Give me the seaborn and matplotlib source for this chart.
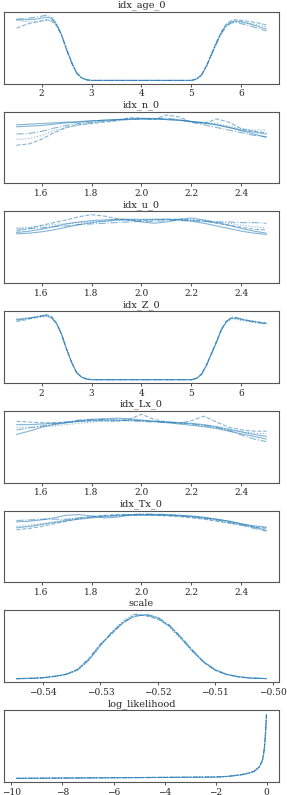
import numpy as np
import pandas as pd
import matplotlib
matplotlib.use("Agg")
import matplotlib.pyplot as plt
import seaborn as sns

# ---------------- data ----------------
titles = ["idx_age_0", "idx_n_0", "idx_u_0", "idx_Z_0", "idx_Lx_0", "idx_Tx_0", "scale", "log_likelihood"]

grid_wide = [1.5, 1.7, 1.9, 2.1, 2.2, 2.3, 2.4, 2.5, 2.6, 2.7, 2.8, 2.9, 3.0, 3.5, 4.0, 4.5,
             5.0, 5.1, 5.2, 5.3, 5.4, 5.5, 5.6, 5.7, 5.8, 5.9, 6.0, 6.2, 6.4, 6.5]
grid_unit = [1.5, 1.55, 1.6, 1.65, 1.7, 1.75, 1.8, 1.85, 1.9, 1.95, 2.0, 2.05, 2.1, 2.15, 2.2,
             2.25, 2.3, 2.35, 2.4, 2.45, 2.5]
grid_scale = [-0.5446, -0.542, -0.540, -0.538, -0.536, -0.534, -0.532, -0.530, -0.528, -0.526,
              -0.524, -0.522, -0.520, -0.518, -0.516, -0.514, -0.512, -0.510, -0.508, -0.506,
              -0.504, -0.5011]
grid_ll = [-9.8, -9.0, -8.0, -7.0, -6.0, -5.0, -4.0, -3.0, -2.0, -1.5, -1.0, -0.7, -0.5, -0.3,
           -0.2, -0.15, -0.1, -0.07, -0.05, -0.035, -0.02, -0.01]

age_chains = [
    [0.93, 0.93, 0.94, 0.97, 0.95, 0.86, 0.70, 0.48, 0.28, 0.12, 0.04, 0.01, 0.0, 0.0, 0.0, 0.0,
     0.0, 0.02, 0.08, 0.22, 0.40, 0.58, 0.74, 0.85, 0.90, 0.91, 0.90, 0.86, 0.81, 0.79],
    [0.80, 0.86, 0.90, 0.93, 0.91, 0.84, 0.69, 0.48, 0.28, 0.12, 0.04, 0.01, 0.0, 0.0, 0.0, 0.0,
     0.0, 0.02, 0.09, 0.23, 0.41, 0.59, 0.75, 0.87, 0.92, 0.93, 0.92, 0.90, 0.87, 0.85],
    [0.92, 0.90, 0.89, 0.92, 0.92, 0.85, 0.70, 0.49, 0.29, 0.12, 0.04, 0.01, 0.0, 0.0, 0.0, 0.0,
     0.0, 0.02, 0.08, 0.22, 0.40, 0.57, 0.73, 0.84, 0.89, 0.90, 0.89, 0.87, 0.84, 0.82],
    [0.94, 0.95, 0.97, 1.00, 0.97, 0.87, 0.70, 0.47, 0.27, 0.11, 0.04, 0.01, 0.0, 0.0, 0.0, 0.0,
     0.0, 0.02, 0.08, 0.21, 0.39, 0.56, 0.72, 0.83, 0.88, 0.89, 0.87, 0.83, 0.78, 0.76],
]
n_chains = [
    [0.84, 0.85, 0.86, 0.87, 0.88, 0.89, 0.90, 0.91, 0.92, 0.93, 0.93, 0.93, 0.92, 0.91, 0.89, 0.87, 0.84, 0.80, 0.75, 0.70, 0.65],
    [0.53, 0.55, 0.62, 0.72, 0.80, 0.84, 0.86, 0.88, 0.90, 0.95, 0.94, 0.92, 0.99, 0.96, 0.88, 0.86, 0.93, 0.88, 0.78, 0.74, 0.72],
    [0.62, 0.63, 0.68, 0.75, 0.80, 0.84, 0.87, 0.89, 0.91, 0.93, 0.94, 0.94, 0.93, 0.91, 0.89, 0.88, 0.86, 0.82, 0.78, 0.76, 0.76],
    [0.70, 0.71, 0.74, 0.79, 0.83, 0.86, 0.88, 0.90, 0.91, 0.92, 0.93, 0.93, 0.94, 0.92, 0.88, 0.84, 0.80, 0.76, 0.72, 0.68, 0.66],
    [0.81, 0.82, 0.83, 0.85, 0.87, 0.88, 0.90, 0.91, 0.92, 0.92, 0.93, 0.93, 0.92, 0.91, 0.89, 0.87, 0.84, 0.80, 0.76, 0.73, 0.70],
]
u_chains = [
    [0.70, 0.71, 0.73, 0.76, 0.80, 0.84, 0.87, 0.89, 0.91, 0.91, 0.88, 0.86, 0.88, 0.92, 0.94, 0.91, 0.87, 0.83, 0.78, 0.74, 0.71],
    [0.74, 0.78, 0.83, 0.87, 0.91, 0.96, 0.99, 0.97, 0.93, 0.91, 0.90, 0.91, 0.92, 0.92, 0.91, 0.89, 0.86, 0.83, 0.80, 0.77, 0.76],
    [0.79, 0.80, 0.82, 0.84, 0.86, 0.87, 0.88, 0.89, 0.90, 0.91, 0.91, 0.92, 0.92, 0.92, 0.91, 0.90, 0.88, 0.86, 0.83, 0.81, 0.79],
    [0.77, 0.78, 0.79, 0.81, 0.82, 0.84, 0.85, 0.86, 0.87, 0.88, 0.89, 0.89, 0.90, 0.90, 0.90, 0.89, 0.88, 0.88, 0.87, 0.87, 0.86],
    [0.72, 0.74, 0.77, 0.81, 0.85, 0.88, 0.90, 0.91, 0.92, 0.92, 0.92, 0.92, 0.92, 0.91, 0.89, 0.86, 0.82, 0.78, 0.74, 0.71, 0.69],
]
z_chains = [
    [0.92, 0.94, 0.96, 0.98, 0.95, 0.86, 0.70, 0.47, 0.27, 0.11, 0.04, 0.01, 0.0, 0.0, 0.0, 0.0,
     0.0, 0.02, 0.08, 0.22, 0.40, 0.57, 0.77, 0.89, 0.94, 0.94, 0.92, 0.90, 0.87, 0.86],
    [0.89, 0.92, 0.96, 1.00, 0.97, 0.87, 0.70, 0.47, 0.27, 0.11, 0.04, 0.01, 0.0, 0.0, 0.0, 0.0,
     0.0, 0.02, 0.09, 0.23, 0.41, 0.59, 0.78, 0.90, 0.95, 0.95, 0.93, 0.90, 0.88, 0.87],
    [0.94, 0.94, 0.95, 0.97, 0.95, 0.86, 0.69, 0.47, 0.27, 0.11, 0.04, 0.01, 0.0, 0.0, 0.0, 0.0,
     0.0, 0.02, 0.08, 0.21, 0.39, 0.57, 0.76, 0.88, 0.93, 0.92, 0.91, 0.88, 0.86, 0.85],
    [0.91, 0.93, 0.97, 0.99, 0.96, 0.86, 0.70, 0.47, 0.27, 0.11, 0.04, 0.01, 0.0, 0.0, 0.0, 0.0,
     0.0, 0.02, 0.08, 0.22, 0.40, 0.58, 0.77, 0.89, 0.96, 0.95, 0.93, 0.89, 0.87, 0.86],
]
lx_chains = [
    [0.69, 0.74, 0.80, 0.84, 0.87, 0.90, 0.92, 0.93, 0.94, 0.93, 0.91, 0.89, 0.87, 0.85, 0.83, 0.81, 0.78, 0.74, 0.70, 0.66, 0.62],
    [0.89, 0.88, 0.87, 0.87, 0.88, 0.89, 0.90, 0.90, 0.89, 0.92, 1.00, 0.92, 0.88, 0.86, 0.90, 0.97, 0.88, 0.80, 0.76, 0.74, 0.74],
    [0.80, 0.80, 0.81, 0.82, 0.84, 0.86, 0.88, 0.89, 0.90, 0.90, 0.90, 0.89, 0.88, 0.87, 0.85, 0.82, 0.79, 0.76, 0.73, 0.71, 0.70],
    [0.76, 0.79, 0.82, 0.85, 0.88, 0.91, 0.92, 0.92, 0.91, 0.90, 0.89, 0.88, 0.88, 0.87, 0.85, 0.83, 0.80, 0.75, 0.68, 0.62, 0.58],
    [0.84, 0.84, 0.85, 0.86, 0.87, 0.89, 0.90, 0.91, 0.91, 0.91, 0.90, 0.89, 0.88, 0.87, 0.86, 0.84, 0.81, 0.77, 0.73, 0.69, 0.66],
]
tx_chains = [
    [0.87, 0.88, 0.90, 0.93, 0.97, 0.98, 0.96, 0.93, 0.94, 0.97, 0.98, 0.98, 0.98, 0.97, 0.96, 0.94, 0.91, 0.88, 0.84, 0.79, 0.74],
    [0.75, 0.77, 0.80, 0.84, 0.88, 0.92, 0.95, 0.97, 0.98, 0.98, 0.98, 0.97, 0.96, 0.95, 0.93, 0.91, 0.88, 0.85, 0.82, 0.79, 0.77],
    [0.80, 0.82, 0.84, 0.87, 0.90, 0.93, 0.95, 0.96, 0.97, 0.98, 0.98, 0.98, 0.97, 0.96, 0.94, 0.92, 0.89, 0.86, 0.83, 0.80, 0.78],
    [0.89, 0.90, 0.91, 0.91, 0.91, 0.93, 0.94, 0.96, 0.97, 0.98, 0.99, 0.99, 0.98, 0.97, 0.95, 0.93, 0.90, 0.86, 0.82, 0.77, 0.73],
    [0.78, 0.80, 0.83, 0.86, 0.89, 0.91, 0.93, 0.95, 0.96, 0.97, 0.97, 0.97, 0.97, 0.96, 0.95, 0.93, 0.91, 0.88, 0.84, 0.81, 0.79],
]
scale_chains = [
    [0.3, 0.6, 1.1, 2.3, 4.0, 8.0, 17.0, 30.0, 41.0, 50.0, 56.0, 57.0, 54.0, 47.0, 36.5, 25.0, 15.0, 8.0, 4.0, 2.0, 0.9, 0.3],
    [0.2, 0.5, 1.0, 2.2, 4.2, 8.5, 18.5, 31.0, 40.0, 50.5, 57.5, 56.0, 53.0, 47.5, 37.5, 25.5, 14.5, 7.5, 3.8, 1.8, 0.8, 0.3],
    [0.3, 0.6, 1.2, 2.4, 3.8, 7.5, 16.0, 29.0, 42.0, 52.0, 58.0, 56.5, 54.5, 46.0, 35.5, 24.0, 15.5, 8.5, 4.2, 2.1, 0.9, 0.4],
    [0.2, 0.5, 1.1, 2.3, 4.1, 8.2, 17.5, 30.5, 41.5, 51.0, 55.5, 57.5, 55.0, 48.0, 37.0, 26.0, 15.0, 7.8, 3.9, 1.9, 0.8, 0.2],
]
ll_chains = [
    [0.02, 0.03, 0.04, 0.05, 0.06, 0.07, 0.08, 0.09, 0.10, 0.14, 0.24, 0.34, 0.44, 0.70, 1.00, 1.25, 1.76, 2.2, 2.7, 3.1, 3.6, 3.9],
    [0.02, 0.03, 0.04, 0.05, 0.06, 0.07, 0.08, 0.09, 0.11, 0.15, 0.25, 0.35, 0.46, 0.72, 1.02, 1.28, 1.80, 2.3, 2.8, 3.2, 3.7, 4.0],
    [0.02, 0.03, 0.04, 0.05, 0.06, 0.07, 0.08, 0.09, 0.10, 0.14, 0.23, 0.33, 0.43, 0.68, 0.98, 1.22, 1.72, 2.2, 2.6, 3.0, 3.5, 3.8],
    [0.02, 0.03, 0.04, 0.05, 0.06, 0.07, 0.08, 0.09, 0.10, 0.15, 0.24, 0.34, 0.45, 0.71, 1.01, 1.26, 1.78, 2.25, 2.75, 3.15, 3.65, 3.95],
]

panels = [
    (grid_wide, age_chains, [2, 3, 4, 5, 6]),
    (grid_unit, n_chains, [1.6, 1.8, 2.0, 2.2, 2.4]),
    (grid_unit, u_chains, [1.6, 1.8, 2.0, 2.2, 2.4]),
    (grid_wide, z_chains, [2, 3, 4, 5, 6]),
    (grid_unit, lx_chains, [1.6, 1.8, 2.0, 2.2, 2.4]),
    (grid_unit, tx_chains, [1.6, 1.8, 2.0, 2.2, 2.4]),
    (grid_scale, scale_chains, [-0.54, -0.53, -0.52, -0.51, -0.50]),
    (grid_ll, ll_chains, [-10, -8, -6, -4, -2, 0]),
]

# ---------------- style ----------------
sns.set_style("white")
plt.rcParams["font.family"] = ["DejaVu Serif"]
plt.rcParams["axes.unicode_minus"] = True

styles = ["-", "--", ":", "-.", "-"]
color = "#1f77b4"

fig, axes = plt.subplots(8, 1, figsize=(2.87, 7.95), dpi=100)
fig.subplots_adjust(left=0.014, right=0.972, top=0.985, bottom=0.0164, hspace=0.39)

for ax, title, (grid, chains, ticks) in zip(axes, titles, panels):
    for i, ch in enumerate(chains):
        df = pd.DataFrame({"x": grid, "y": ch})
        sns.lineplot(data=df, x="x", y="y", ax=ax, color=color, alpha=0.55,
                     linewidth=0.8, linestyle=styles[i % len(styles)], sort=False)
    ymax = max(max(c) for c in chains)
    ax.set_ylim(-0.05 * ymax, 1.05 * ymax)
    ax.set_xlabel("")
    ax.set_ylabel("")
    ax.set_yticks([])
    ax.set_xticks(ticks)
    ax.set_title(title, fontsize=7, pad=3)
    ax.tick_params(axis="x", labelsize=6.5, length=2.5, width=0.6, pad=1.5,
                   bottom=True, color="#333333")
    for sp in ax.spines.values():
        sp.set_color("#555555")
        sp.set_linewidth(0.8)

axes[7].set_xticklabels(["\u221210", "\u22128", "\u22126", "\u22124", "\u22122", "0"])
axes[6].set_xticklabels(["\u22120.54", "\u22120.53", "\u22120.52", "\u22120.51", "\u22120.50"])

fig.savefig("out.png", dpi=100)
